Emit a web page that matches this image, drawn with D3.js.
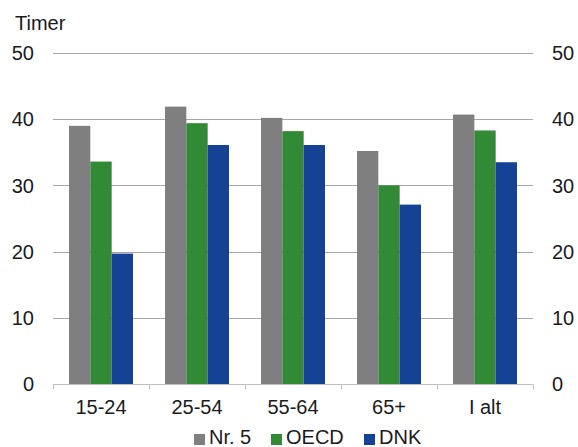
<!DOCTYPE html>
<html>
<head>
<meta charset="utf-8">
<script src="https://cdn.jsdelivr.net/npm/d3@7"></script>
<style>
  html, body { margin: 0; padding: 0; background: #fff; }
  svg { display: block; font-family: "Liberation Sans", Arial, sans-serif; }
</style>
</head>
<body>
<svg id="chart"></svg>
<script>
// Data
const categories = ['15-24', '25-54', '55-64', '65+', 'I alt'];
const seriesNames = ['Nr. 5', 'OECD', 'DNK'];
const nr5Values = [39.0, 41.9, 40.2, 35.2, 40.7];
const oecdValues = [33.6, 39.4, 38.2, 30.0, 38.3];
const dnkValues = [19.7, 36.1, 36.1, 27.1, 33.5];
const yTicks = [0, 10, 20, 30, 40, 50];

const COLORS = { 'Nr. 5': '#7f7f7f', 'OECD': '#338a36', 'DNK': '#154294' };

const width = 578;
const height = 447;
const margin = { top: 53, right: 45, bottom: 63, left: 53 };

const svg = d3.select('#chart')
  .attr('width', width)
  .attr('height', height)
  .attr('viewBox', `0 0 ${width} ${height}`);

const rows = categories.map((c, i) => ({
  category: c,
  values: [
    { name: 'Nr. 5', value: nr5Values[i] },
    { name: 'OECD', value: oecdValues[i] },
    { name: 'DNK', value: dnkValues[i] }
  ]
}));

const x0 = d3.scaleBand()
  .domain(categories)
  .range([margin.left, width - margin.right])
  .paddingInner(1 / 3)
  .paddingOuter(1 / 6);

const x1 = d3.scaleBand()
  .domain(seriesNames)
  .range([0, x0.bandwidth()]);

const y = d3.scaleLinear()
  .domain([0, 50])
  .range([height - margin.bottom, margin.top]);

// Gridlines
svg.append('g')
  .selectAll('line')
  .data(yTicks.filter(d => d > 0))
  .join('line')
  .attr('x1', margin.left)
  .attr('x2', width - margin.right)
  .attr('y1', d => Math.round(y(d)) + 0.5)
  .attr('y2', d => Math.round(y(d)) + 0.5)
  .attr('stroke', '#a6a6a6')
  .attr('stroke-width', 1);

// Bars
svg.append('g')
  .selectAll('g')
  .data(rows)
  .join('g')
  .attr('transform', d => `translate(${x0(d.category)},0)`)
  .selectAll('rect')
  .data(d => d.values)
  .join('rect')
  .attr('x', d => x1(d.name))
  .attr('y', d => y(d.value))
  .attr('width', x1.bandwidth())
  .attr('height', d => y(0) - y(d.value))
  .attr('fill', d => COLORS[d.name]);

// X axis with ticks between categories
const xAxisY = Math.round(y(0)) + 0.5;
const step = x0.step();
const boundaries = d3.range(categories.length + 1).map(i => margin.left + i * step);
const xAxis = svg.append('g');
xAxis.append('line')
  .attr('x1', margin.left)
  .attr('x2', width - margin.right)
  .attr('y1', xAxisY)
  .attr('y2', xAxisY)
  .attr('stroke', '#bfbfbf');
xAxis.selectAll('.tick-mark')
  .data(boundaries)
  .join('line')
  .attr('class', 'tick-mark')
  .attr('x1', d => Math.round(d) + 0.5)
  .attr('x2', d => Math.round(d) + 0.5)
  .attr('y1', xAxisY)
  .attr('y2', xAxisY + 5)
  .attr('stroke', '#bfbfbf');
xAxis.selectAll('.x-label')
  .data(categories)
  .join('text')
  .attr('class', 'x-label')
  .attr('x', d => x0(d) + x0.bandwidth() / 2)
  .attr('y', 414)
  .attr('text-anchor', 'middle')
  .attr('font-size', '20px')
  .attr('fill', '#1a1a1a')
  .text(d => d);

// Y tick labels, left and right
svg.append('g')
  .selectAll('text')
  .data(yTicks)
  .join('text')
  .attr('x', margin.left - 19)
  .attr('y', d => y(d))
  .attr('dy', '0.36em')
  .attr('text-anchor', 'end')
  .attr('font-size', '20px')
  .attr('fill', '#1a1a1a')
  .text(d => d);

svg.append('g')
  .selectAll('text')
  .data(yTicks)
  .join('text')
  .attr('x', width - margin.right + 19)
  .attr('y', d => y(d))
  .attr('dy', '0.36em')
  .attr('text-anchor', 'start')
  .attr('font-size', '20px')
  .attr('fill', '#1a1a1a')
  .text(d => d);

// Unit label
svg.append('text')
  .attr('x', 15)
  .attr('y', 30)
  .attr('font-size', '20px')
  .attr('fill', '#1a1a1a')
  .text('Timer');

// Legend
const legendX = [194, 271, 364];
const legend = svg.append('g')
  .selectAll('g')
  .data(seriesNames)
  .join('g')
  .attr('transform', (d, i) => `translate(${legendX[i]},434)`);
legend.append('rect')
  .attr('width', 11)
  .attr('height', 11)
  .attr('fill', d => COLORS[d]);
legend.append('text')
  .attr('x', 15)
  .attr('y', 10)
  .attr('font-size', '20px')
  .attr('fill', '#1a1a1a')
  .text(d => d);
</script>
</body>
</html>
